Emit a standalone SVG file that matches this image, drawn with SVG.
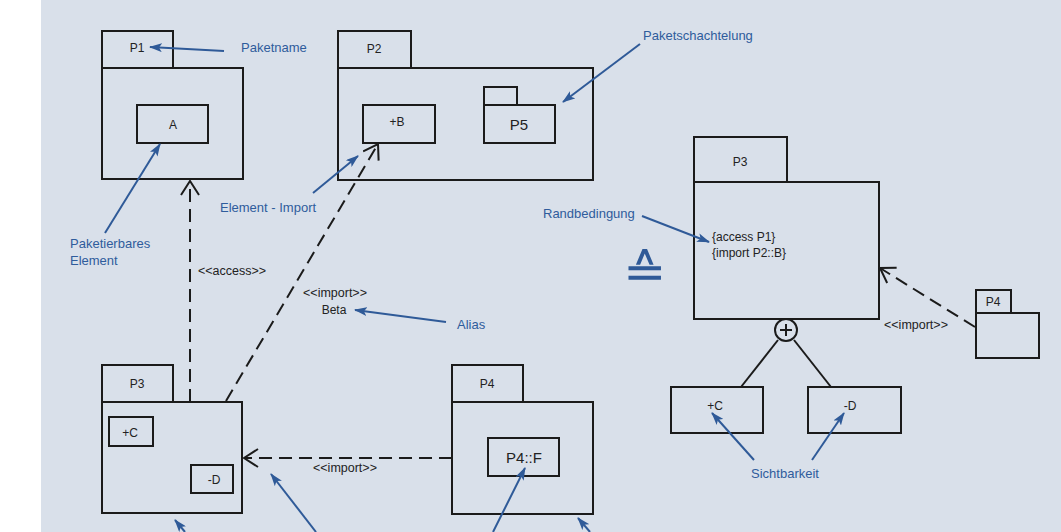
<svg xmlns="http://www.w3.org/2000/svg" width="1061" height="532" viewBox="0 0 1061 532">
<defs>
<style>
.bg{fill:#d9e0ea}
.box{fill:none;stroke:#1b1b1b;stroke-width:2}
.t{font-family:"Liberation Sans",Arial,sans-serif;font-size:12px;fill:#222}
.st{font-family:"Liberation Sans",Arial,sans-serif;font-size:12.5px;fill:#222}
.tb{font-family:"Liberation Sans",Arial,sans-serif;font-size:15px;fill:#222}
.lbl{font-family:"Liberation Sans",Arial,sans-serif;font-size:13px;fill:#2f5c9c}
.ann{fill:none;stroke:#2f5a98;stroke-width:2;marker-end:url(#ba)}
.dep{fill:none;stroke:#1b1b1b;stroke-width:2;stroke-dasharray:13 7;marker-end:url(#oa)}
.ln{fill:none;stroke:#1b1b1b;stroke-width:2}
</style>
<marker id="ba" viewBox="0 0 13 9" refX="12" refY="4.5" markerWidth="13" markerHeight="9" markerUnits="userSpaceOnUse" orient="auto">
<path d="M0,0 L13,4.5 L0,9 L3,4.5 z" fill="#2f5a98"/>
</marker>
<marker id="oa" viewBox="0 0 16 20" refX="15" refY="10" markerWidth="16" markerHeight="20" markerUnits="userSpaceOnUse" orient="auto">
<path d="M1,1 L15,10 L1,19" fill="none" stroke="#1b1b1b" stroke-width="2"/>
</marker>
</defs>
<rect x="0" y="0" width="1061" height="532" fill="#ffffff"/>
<rect class="bg" x="41" y="0" width="1020" height="532"/>

<g id="P1">
<rect class="box" x="102" y="31" width="71" height="37"/>
<rect class="box" x="102" y="68" width="141" height="111"/>
<text class="t" x="137" y="52" text-anchor="middle">P1</text>
<rect class="box" x="137" y="105" width="71" height="38"/>
<text class="t" x="173" y="129" text-anchor="middle">A</text>
</g>

<g id="P2">
<rect class="box" x="338" y="31" width="73" height="37"/>
<rect class="box" x="338" y="68" width="255" height="112"/>
<text class="t" x="374" y="53" text-anchor="middle">P2</text>
<rect class="box" x="363" y="105" width="72" height="38"/>
<text class="t" x="397" y="126" text-anchor="middle">+B</text>
<g id="P5">
<rect class="box" x="484" y="87" width="33" height="18"/>
<rect class="box" x="484" y="105" width="71" height="38"/>
<text class="tb" x="519" y="130" text-anchor="middle">P5</text>
</g>
</g>

<g id="P3a">
<rect class="box" x="102" y="365" width="71" height="37"/>
<rect class="box" x="102" y="402" width="140" height="111"/>
<text class="t" x="137" y="388" text-anchor="middle">P3</text>
<rect class="box" x="109" y="417" width="44" height="29"/>
<text class="t" x="130" y="437" text-anchor="middle">+C</text>
<rect class="box" x="191" y="465" width="42" height="28"/>
<text class="t" x="214" y="484" text-anchor="middle">-D</text>
</g>

<g id="P4a">
<rect class="box" x="452" y="365" width="71" height="37"/>
<rect class="box" x="452" y="402" width="141" height="112"/>
<text class="t" x="487" y="388" text-anchor="middle">P4</text>
<rect class="box" x="488" y="438" width="71" height="38"/>
<text class="tb" x="524" y="463" text-anchor="middle">P4::F</text>
</g>

<g id="P3b">
<rect class="box" x="694" y="137" width="93" height="45"/>
<rect class="box" x="694" y="182" width="185" height="137"/>
<text class="t" x="740" y="166" text-anchor="middle">P3</text>
<text class="t" x="712" y="241" font-size="13">{access P1}</text>
<text class="t" x="712" y="257" font-size="13">{import P2::B}</text>
</g>

<g id="P3b-C">
<rect class="box" x="671" y="387" width="92" height="46"/>
<text class="t" x="715" y="410" text-anchor="middle">+C</text>
</g>
<g id="P3b-D">
<rect class="box" x="808" y="387" width="93" height="46"/>
<text class="t" x="850" y="410" text-anchor="middle">-D</text>
</g>

<g id="P4b">
<rect class="box" x="976" y="290" width="35" height="23"/>
<rect class="box" x="976" y="313" width="63" height="45"/>
<text class="t" x="993" y="306" text-anchor="middle">P4</text>
</g>

<g id="equiv">
<text transform="translate(644,288) scale(1.35,1.25)" x="0" y="0" text-anchor="middle" font-family="DejaVu Sans, sans-serif" font-weight="200" font-size="38" fill="#2f5a98">≙</text>
</g>

<g id="connectors">
<line class="dep" x1="190" y1="402" x2="190" y2="181"/>
<line class="dep" x1="226" y1="401" x2="378" y2="144"/>
<line class="dep" x1="452" y1="458" x2="244" y2="458"/>
<line class="dep" x1="975" y1="327" x2="880" y2="268"/>
<circle cx="786" cy="330" r="11" fill="#d9e0ea" stroke="#1b1b1b" stroke-width="2"/>
<line class="ln" x1="780" y1="330" x2="792" y2="330"/>
<line class="ln" x1="786" y1="324" x2="786" y2="336"/>
<line class="ln" x1="778" y1="340" x2="741" y2="387"/>
<line class="ln" x1="794" y1="340" x2="831" y2="387"/>

<line class="ann" x1="224" y1="51" x2="150" y2="47"/>
<line class="ann" x1="105" y1="233" x2="160" y2="144"/>
<line class="ann" x1="313" y1="193" x2="358" y2="156"/>
<line class="ann" x1="640" y1="44" x2="563" y2="102"/>
<line class="ann" x1="446" y1="322" x2="355" y2="310"/>
<line class="ann" x1="642" y1="216" x2="709" y2="242"/>
<line class="ann" x1="754" y1="460" x2="712" y2="413"/>
<line class="ann" x1="812" y1="460" x2="844" y2="413"/>
<line class="ann" x1="185" y1="532" x2="175" y2="520"/>
<line class="ann" x1="316" y1="532" x2="271" y2="474"/>
<line class="ann" x1="493" y1="532" x2="525" y2="468"/>
<line class="ann" x1="590" y1="532" x2="578" y2="518"/>

<text class="st" x="198" y="275">&lt;&lt;access&gt;&gt;</text>
<text class="st" x="335" y="297" text-anchor="middle">&lt;&lt;import&gt;&gt;</text>
<text class="t" x="334" y="314" text-anchor="middle" font-size="13">Beta</text>
<text class="st" x="313" y="472">&lt;&lt;import&gt;&gt;</text>
<text class="st" x="884" y="329">&lt;&lt;import&gt;&gt;</text>
</g>

<g id="labels">
<text class="lbl" x="241" y="52" font-size="12.5">Paketname</text>
<text class="lbl" x="643" y="40">Paketschachtelung</text>
<text class="lbl" x="70" y="248">Paketierbares</text>
<text class="lbl" x="70" y="265">Element</text>
<text class="lbl" x="220" y="212">Element - Import</text>
<text class="lbl" x="457" y="329">Alias</text>
<text class="lbl" x="543" y="218">Randbedingung</text>
<text class="lbl" x="785" y="478" text-anchor="middle">Sichtbarkeit</text>
</g>
</svg>
